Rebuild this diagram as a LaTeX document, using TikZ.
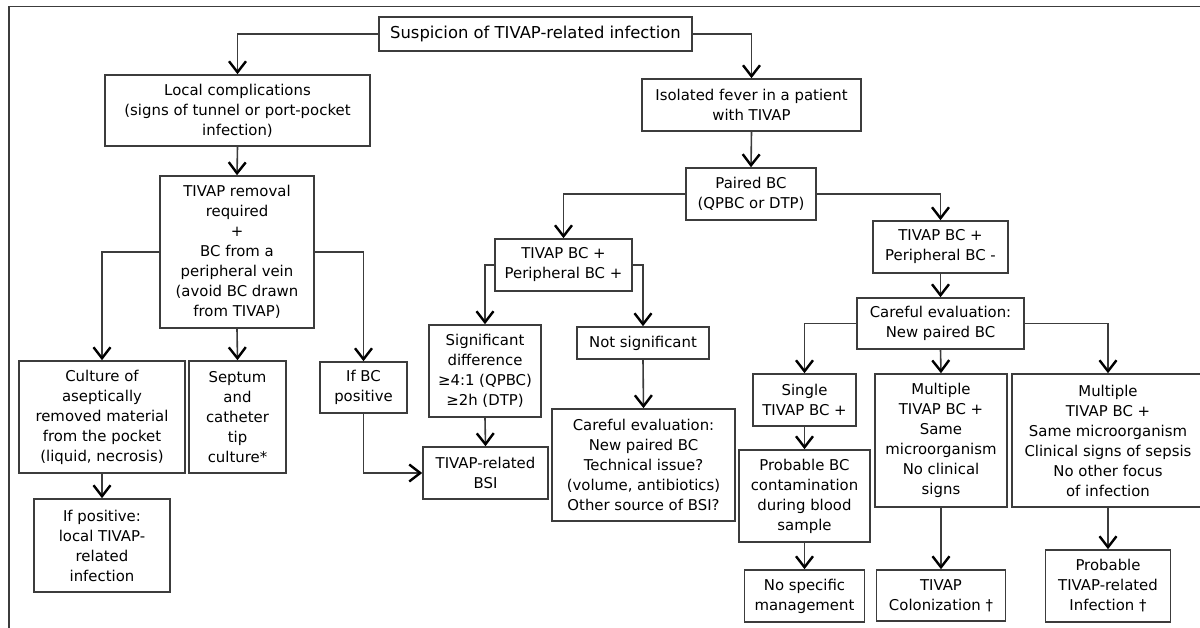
\documentclass[tikz,border=0pt]{standalone}
\usepackage{fontspec}
\setmainfont{DejaVu Sans}
\usetikzlibrary{arrows.meta}

\definecolor{linegray}{RGB}{60,60,60}
\newcommand{\bodyfont}{\fontsize{14.9}{20}\selectfont}
\newcommand{\titlefont}{\fontsize{16.4}{20}\selectfont}

\tikzset{every picture/.style={line width=1.6pt}}
\tikzset{
	blk/.style={draw=linegray, align=center, inner sep=0pt, font=\bodyfont},
	arr/.style={draw=linegray, -{Straight Barb[length=11pt,width=17pt,line width=2.4pt,color=black]}},
	lnk/.style={draw=linegray}}

\begin{document}
\begin{tikzpicture}[x=1pt,y=1pt,yscale=-1,xscale=1]
	\useasboundingbox (0,0) rectangle (1200,628);

	%Shape: Frame
	\draw [linegray] (1210,6.5) -- (9,6.5) -- (9,640) ;

	%Shape: Rectangle (top)
	\node [blk, font=\titlefont, minimum width=313, minimum height=34] (susp) at (535.5,34) {Suspicion of TIVAP-related infection};

	%Shape: Rectangle (left branch)
	\node [blk, minimum width=265, minimum height=71] (local) at (237.5,110.5) {Local complications\\(signs of tunnel or port-pocket\\infection)};
	\node [blk, minimum width=154, minimum height=152] (removal) at (237,252) {TIVAP removal\\required\\+\\BC from a\\peripheral vein\\(avoid BC drawn\\from TIVAP)};
	\node [blk, minimum width=166, minimum height=112] (culture) at (102,417) {Culture of\\aseptically\\removed material\\from the pocket\\(liquid, necrosis)};
	\node [blk, minimum width=97, minimum height=112] (septum) at (237.5,417) {Septum\\and\\catheter\\tip\\culture*};
	\node [blk, minimum width=87, minimum height=51] (ifbc) at (363.5,387.5) {If BC\\positive};
	\node [blk, minimum width=136, minimum height=93] (ifpos) at (102,545.5) {If positive:\\local TIVAP-\\related\\infection};

	%Shape: Rectangle (right branch)
	\node [blk, minimum width=219, minimum height=52] (fever) at (751.5,105) {Isolated fever in a patient\\with TIVAP};
	\node [blk, minimum width=130, minimum height=52] (paired) at (751,194) {Paired BC\\(QPBC or DTP)};
	\node [blk, minimum width=137, minimum height=52] (bcpos) at (563.5,265) {TIVAP BC +\\Peripheral BC +};
	\node [blk, minimum width=135, minimum height=52] (bcneg) at (940.5,247) {TIVAP BC +\\Peripheral BC -};
	\node [blk, minimum width=112, minimum height=92] (signif) at (485,371) {Significant\\difference\\≥4:1 (QPBC)\\≥2h (DTP)};
	\node [blk, minimum width=132, minimum height=32] (notsig) at (643,343) {Not significant};
	\node [blk, minimum width=125, minimum height=52] (bsi) at (485.5,473) {TIVAP-related\\BSI};
	\node [blk, minimum width=183, minimum height=112] (evalA) at (643.5,465) {Careful evaluation:\\New paired BC\\Technical issue?\\(volume, antibiotics)\\Other source of BSI?};
	\node [blk, minimum width=167, minimum height=51] (evalB) at (940.5,323.5) {Careful evaluation:\\New paired BC};
	\node [blk, minimum width=103, minimum height=52] (single) at (804.5,400) {Single\\TIVAP BC +};
	\node [blk, minimum width=131, minimum height=92] (contam) at (804.5,496) {Probable BC\\contamination\\during blood\\sample};
	\node [blk, minimum width=120, minimum height=52] (nospec) at (804.5,596) {No specific\\management};
	\node [blk, minimum width=132, minimum height=133] (multiA) at (941,440.5) {Multiple\\TIVAP BC +\\Same\\microorganism\\No clinical\\signs};
	\node [blk, minimum width=129, minimum height=51] (colon) at (941,595.5) {TIVAP\\Colonization †};
	\node [blk, minimum width=192, minimum height=133] (multiB) at (1108,440.5) {Multiple\\TIVAP BC +\\Same microorganism\\Clinical signs of sepsis\\No other focus\\of infection};
	\node [blk, minimum width=125, minimum height=72] (prob) at (1108,586) {Probable\\TIVAP-related\\Infection †};

	%Straight Lines
	\draw [arr] (susp.west) -| (local.north) ;
	\draw [arr] (susp.east) -| (fever.north) ;
	\draw [arr] (local.south) -- (removal.north) ;
	\draw [arr] (removal.west) -| (culture.north) ;
	\draw [arr] (removal.south) -- (septum.north) ;
	\draw [arr] (removal.east) -| (ifbc.north) ;
	\draw [arr] (culture.south) -- (ifpos.north) ;
	\draw [arr] (ifbc.south) |- (bsi.west) ;
	\draw [arr] (fever.south) -- (paired.north) ;
	\draw [arr] (paired.west) -| (bcpos.north) ;
	\draw [arr] (paired.east) -| (bcneg.north) ;
	\draw [arr] (bcpos.west) -| (signif.north) ;
	\draw [arr] (bcpos.east) -| (notsig.north) ;
	\draw [arr] (signif.south) -- (bsi.north) ;
	\draw [arr] (notsig.south) -- (evalA.north) ;
	\draw [arr] (bcneg.south) -- (evalB.north) ;
	\draw [arr] (evalB.west) -| (single.north) ;
	\draw [arr] (evalB.south) -- (multiA.north) ;
	\draw [arr] (evalB.east) -| (multiB.north) ;
	\draw [arr] (single.south) -- (contam.north) ;
	\draw [arr] (contam.south) -- (nospec.north) ;
	\draw [arr] (multiA.south) -- (colon.north) ;
	\draw [arr] (multiB.south) -- (prob.north) ;

\end{tikzpicture}
\end{document}
